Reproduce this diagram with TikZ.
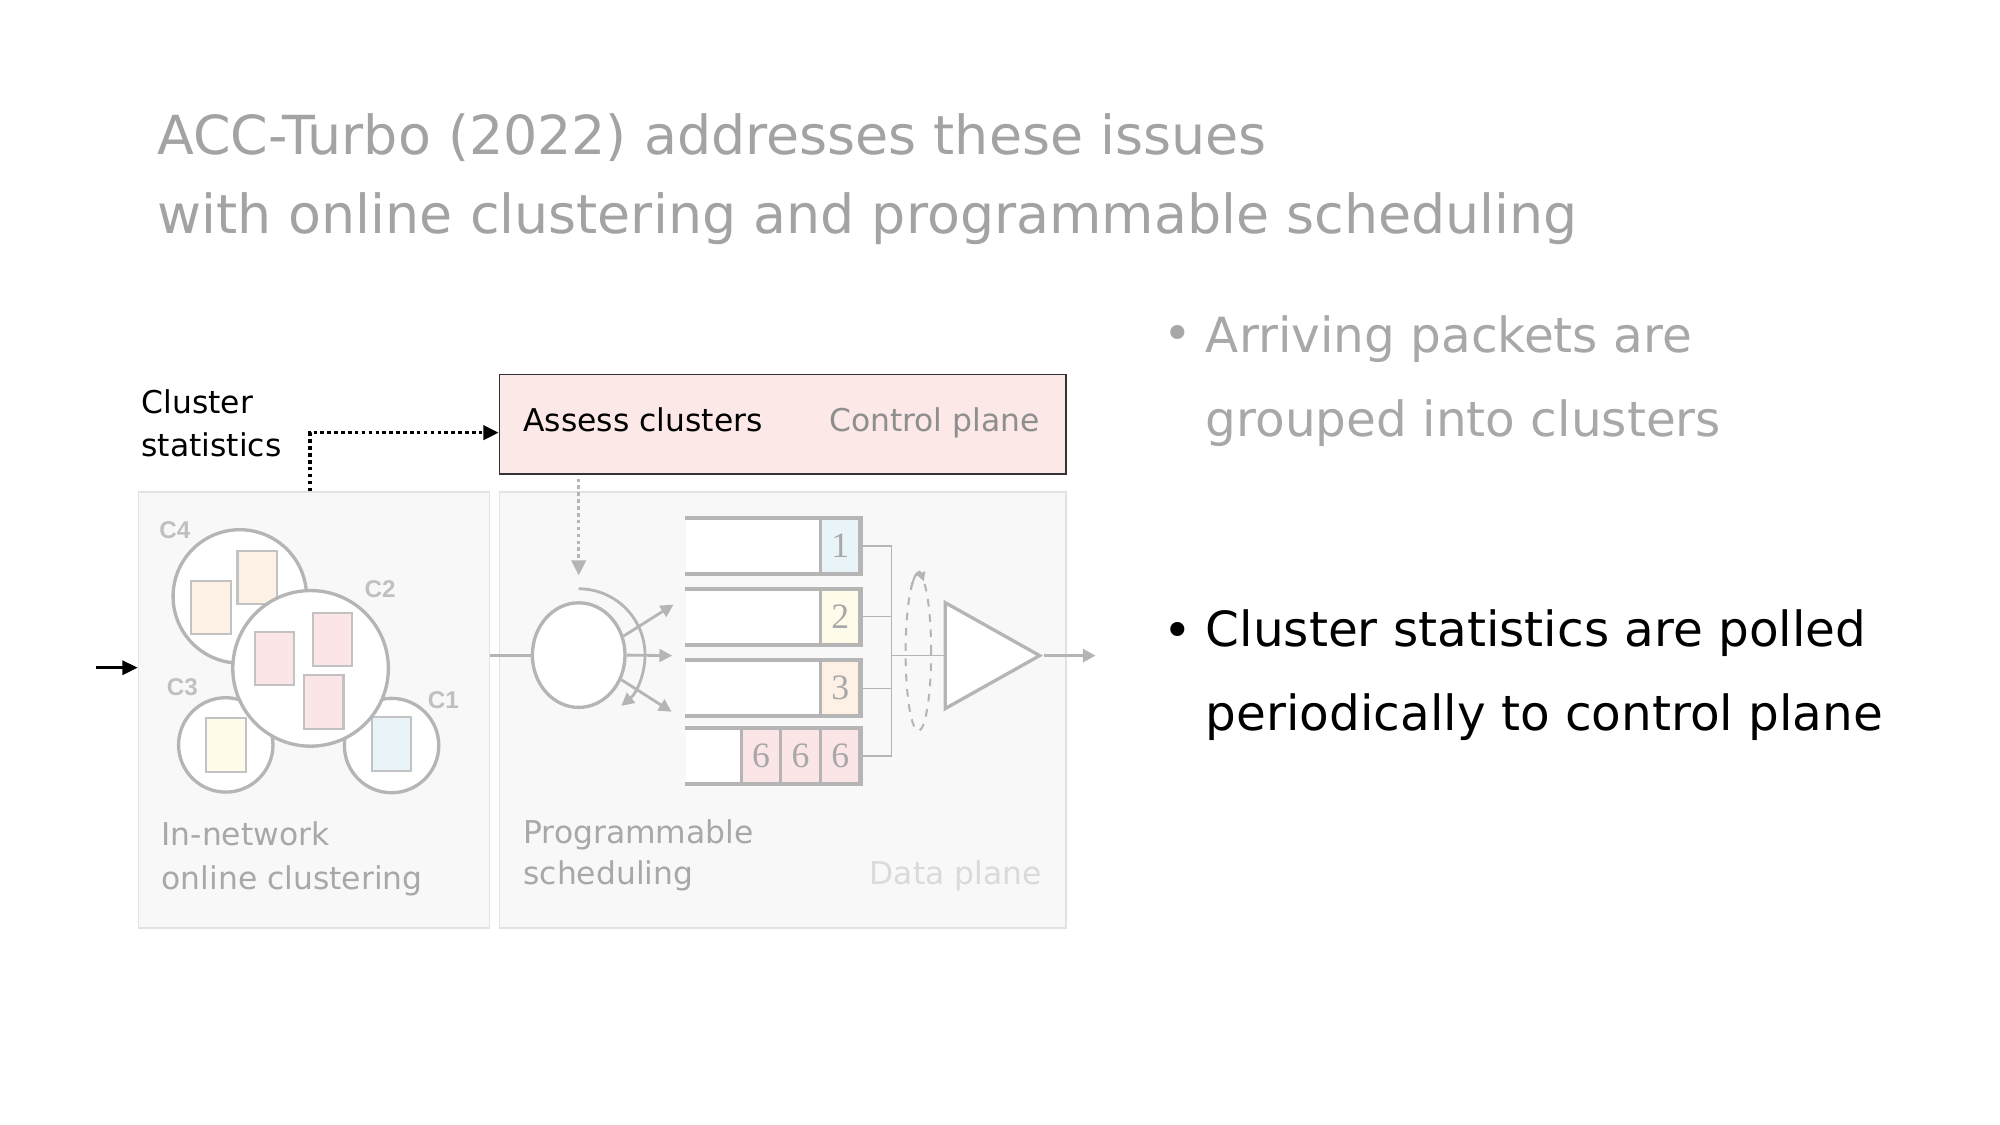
\documentclass[tikz,border=0pt]{standalone}
\usepackage{fontspec}
\setmainfont{DejaVu Sans}
\newfontfamily\tagfont{Liberation Sans}
\newfontfamily\digitfont{Liberation Serif}
\usepackage{tikz}
\usetikzlibrary{arrows.meta,positioning,shapes.geometric}

\definecolor{titlegray}{HTML}{A3A3A3}
\definecolor{softgray}{HTML}{A8A8A8}
\definecolor{panelfill}{HTML}{F8F8F8}
\definecolor{panelline}{HTML}{E2E2E2}
\definecolor{shapegray}{HTML}{B5B5B5}
\definecolor{packetline}{HTML}{C2C2C2}
\definecolor{taggray}{HTML}{C0C0C0}
\definecolor{ctrlgray}{HTML}{8E8E8E}
\definecolor{datagray}{HTML}{DADADA}
\definecolor{assessfill}{HTML}{FDE8E8}
\definecolor{pktorange}{HTML}{FDF1E6}
\definecolor{pktpink}{HTML}{FCE5E7}
\definecolor{pktyellow}{HTML}{FEFBEA}
\definecolor{pktblue}{HTML}{E9F4F8}

\begin{document}
\begin{tikzpicture}[x=0.5pt, y=-0.5pt,
    headline/.style={anchor=base west, inner sep=0pt, align=left, text=titlegray, font=\fontsize{21.1}{31}\selectfont},
    point/.style={anchor=base west, inner sep=0pt, align=left, font=\fontsize{19}{33}\selectfont},
    pointdot/.style={anchor=base, inner sep=0pt, font=\fontsize{19}{33}\selectfont},
    caption/.style={anchor=base west, inner sep=0pt, align=left, font=\fontsize{12.3}{17}\selectfont},
    panel/.style={draw=panelline, fill=panelfill, line width=0.6pt, anchor=north west, inner sep=0pt},
    cluster/.style={circle, draw=shapegray, fill=white, line width=1.3pt, inner sep=0pt},
    packet/.style={draw=packetline, line width=0.8pt, minimum width=15.5pt, minimum height=21pt, inner sep=0pt},
    tag/.style={text=taggray, inner sep=0pt, font=\tagfont\bfseries\fontsize{9.5}{10}\selectfont},
    queue/.style={fill=white, minimum width=68.7pt, minimum height=21.5pt, inner sep=0pt},
    qline/.style={draw=shapegray, line width=1.5pt},
    cell/.style={draw=shapegray, line width=1.2pt, minimum width=15.5pt, minimum height=21.5pt, inner sep=0pt, anchor=east, text=softgray, font=\digitfont\fontsize{14}{14}\selectfont},
    link/.style={draw=shapegray, line width=0.6pt},
    flow/.style={draw=shapegray, line width=1.1pt, -{Triangle[length=5pt,width=5pt]}},
    poll/.style={black, line width=1.4pt, dash pattern=on 1.4pt off 1.3pt, -{Triangle[length=6pt,width=5.5pt]}},
    pollgray/.style={shapegray, line width=1.4pt, dash pattern=on 1.4pt off 1.3pt, -{Triangle[length=6pt,width=5.5pt]}}
  ]
    \path[fill=white] (0,0) rectangle (1568,882);

    % slide text (multi-line nodes sit on their last baseline)
    \node[headline] (head) at (123,183) {ACC-Turbo (2022) addresses these issues\\with online clustering and programmable scheduling};
    \node[pointdot, text=softgray] (dot1) at (923,275) {•};
    \node[point, text=softgray] (arrive) at (945,342) {Arriving packets are\\grouped into clusters};
    \node[pointdot] (dot2) at (923,508) {•};
    \node[point] (polled) at (945,573) {Cluster statistics are polled\\periodically to control plane};

    % panels
    \node[panel, minimum width=137.5pt, minimum height=171pt] (clustering) at (108,385) {};
    \node[panel, minimum width=222pt, minimum height=171pt] (scheduling) at (391,385) {};
    \node[panel, draw=black!80, fill=assessfill, minimum width=222pt, minimum height=39pt] (assess) at (391,293) {};
    \node[caption, text=black] (assesslabel) at (410,338.5) {Assess clusters};
    \node[caption, anchor=base east, text=ctrlgray] (ctrllabel) at (815.5,338.5) {Control plane};
    \node[caption, text=black] (stats) at (110.6,358) {Cluster\\statistics};
    \node[caption, text=softgray] (clusterlabel) at (126.3,697) {In-network\\online clustering};
    \node[caption, text=softgray, font=\fontsize{12.3}{16}\selectfont] (schedlabel) at (410,693.6) {Programmable\\scheduling};
    \node[caption, anchor=base east, text=datagray] (datalabel) at (817,693.6) {Data plane};

    % clusters
    \node[cluster, minimum size=52.3pt] (c4) at (188,467.6) {};
    \node[packet, fill=pktorange] (c4a) at (165.6,476.3) {};
    \node[packet, fill=pktorange] (c4b) at (201.7,452.7) {};
    \node[cluster, minimum size=37pt] (c3) at (177,584) {};
    \node[packet, fill=pktyellow] (c3a) at (177,584) {};
    \node[cluster, minimum size=37pt] (c1) at (307,584.5) {};
    \node[packet, fill=pktblue] (c1a) at (307,583.2) {};
    \node[cluster, minimum size=61pt] (c2) at (243.5,524) {};
    \node[packet, fill=pktpink] (c2a) at (215.2,516.4) {};
    \node[packet, fill=pktpink] (c2b) at (260.8,501.5) {};
    \node[packet, fill=pktpink] (c2c) at (253.8,550.2) {};
    \node[tag] (c4tag) at (137,416) {C4};
    \node[tag] (c2tag) at (298,462) {C2};
    \node[tag] (c3tag) at (143,539) {C3};
    \node[tag] (c1tag) at (347.6,549) {C1};

    % scheduler
    \node[ellipse, draw=shapegray, fill=white, line width=1.3pt, minimum width=36.3pt, minimum height=41pt, inner sep=0pt] (switch) at (453.7,513.6) {};
    \foreach \q/\y/\c/\d in {q1/428/pktblue/1, q2/483.5/pktyellow/2, q3/539.6/pktorange/3}{
      \node[queue] (\q) at (606.3,\y) {};
      \node[cell, fill=\c] (\q-cell) at (\q.east) {\d};
      \draw[qline] (\q.north west) -- (\q.north east) -- (\q.south east) -- (\q.south west);
    }
    \node[queue] (q4) at (606.3,592.5) {};
    \foreach \k in {0,1,2}
      \node[cell, fill=pktpink, xshift={-15.5pt*\k}] (q4-cell\k) at (q4.east) {6};
    \draw[qline] (q4.north west) -- (q4.north east) -- (q4.south east) -- (q4.south west);

    \node[isosceles triangle, isosceles triangle stretches, draw=shapegray, fill=white, line width=1.3pt, minimum width=41.5pt, minimum height=37pt, inner sep=0pt, anchor=apex] (amp) at (818.5,514) {};
    \node[ellipse, draw=shapegray, dashed, line width=0.8pt, minimum width=10pt, minimum height=61.5pt, inner sep=0pt] (rr) at (720,511.5) {};

    \coordinate (in) at (75,523.5);
    \coordinate (statsfoot) at (243,385);
    \coordinate (merge) at (699,514);
    \coordinate (fanup) at (528,474);
    \coordinate (fanmid) at (527,514);
    \coordinate (fanlow) at (526.5,558);
    \coordinate (out) at (859,514);

    % connectors
    \draw[black, line width=1.2pt, -{Triangle[length=6pt,width=5.5pt]}] (in) -- (in -| clustering.west);
    \draw[poll] (statsfoot) |- ([yshift=-3.3pt]assess.west);
    \draw[pollgray, shorten <=1.5pt] (assess.south -| switch.north) -- ([yshift=10pt]switch.north);
    \draw[link, line width=1.1pt] (clustering.east |- switch.west) -- (switch.west);
    \draw[flow] (switch.center) ++(90:26pt) arc[start angle=90, end angle=-50, radius=26pt];
    \draw[flow] (switch.23) -- (fanup);
    \draw[flow] (switch.east) -- (fanmid);
    \draw[flow] (switch.-30) -- (fanlow);
    \foreach \q in {q1,q2,q3,q4}
      \draw[link] (\q.east) -- (\q.east -| merge);
    \draw[link] (q1.east -| merge) -- (q4.east -| merge);
    \draw[link] (merge) -- (amp);
    \draw[shapegray, line width=0.8pt, -{Triangle[length=3.5pt,width=3.5pt]}] (rr.center) ++(125:5pt and 30.75pt) arc[start angle=125, end angle=65, x radius=5pt, y radius=30.75pt];
    \draw[flow, line width=1.4pt] (amp.apex) -- (out);
\end{tikzpicture}
\end{document}
